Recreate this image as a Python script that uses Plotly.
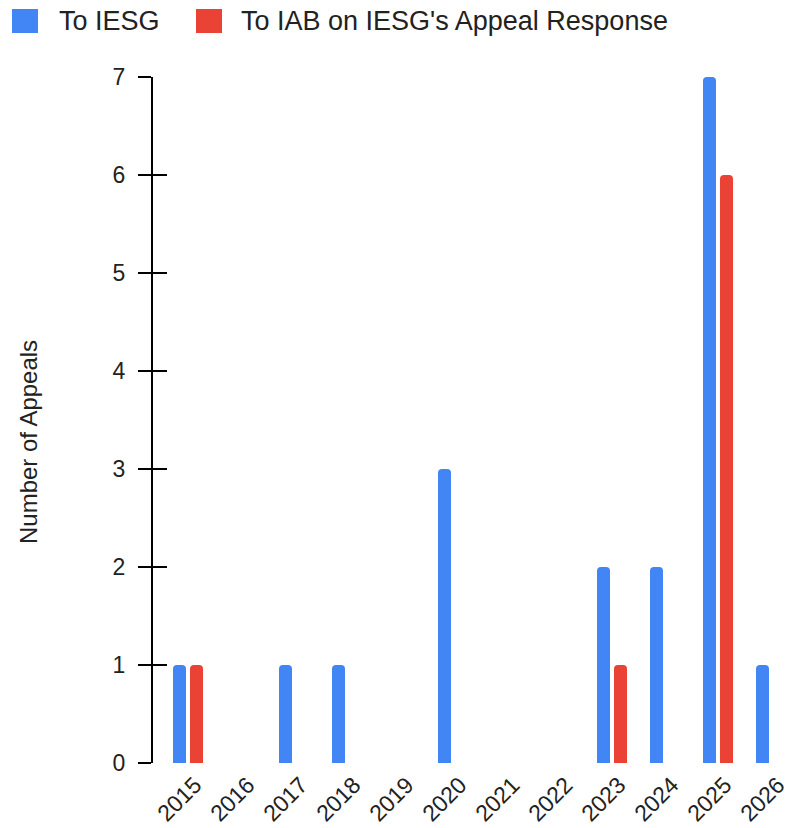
import plotly.graph_objects as go

years = [2015, 2016, 2017, 2018, 2019, 2020, 2021, 2022, 2023, 2024, 2025, 2026]
year_labels = [str(y) for y in years]
to_iesg = [1, 0, 1, 1, 0, 3, 0, 0, 2, 2, 7, 1]
to_iab = [1, 0, 0, 0, 0, 0, 0, 0, 1, 0, 6, 0]
y_ticks = [0, 1, 2, 3, 4, 5, 6, 7]

series_names = ["To IESG", "To IAB on IESG's Appeal Response"]
series_colors = ["#4285F4", "#EA4335"]

FONT = "Liberation Sans, Arial, sans-serif"
TXT = "#222222"

W, H = 786, 828
L, R, T, B = 153, 0, 77, 828 - 763
PW = W - L - R
PH = H - T - B
PX_PER_YEAR = 53.0
x_min = 2015 - 35 / PX_PER_YEAR
x_max = x_min + PW / PX_PER_YEAR

bar_w = 13 / PX_PER_YEAR

fig = go.Figure()
fig.add_trace(go.Bar(
    x=years, y=to_iesg, name=series_names[0],
    marker=dict(color=series_colors[0], line=dict(width=0)),
    width=bar_w, offset=-15 / PX_PER_YEAR, showlegend=False,
))
fig.add_trace(go.Bar(
    x=years, y=to_iab, name=series_names[1],
    marker=dict(color=series_colors[1], line=dict(width=0)),
    width=bar_w, offset=2 / PX_PER_YEAR, showlegend=False,
))

# helpers: page pixel -> paper coordinate
def px_x(px):
    return (px - L) / PW

def px_y(py):
    return (H - B - py) / PH

# custom legend (large rounded squares like the reference)
legend_items = [(12, 38, 57), (196, 222, 239)]
for (x0, x1, tx), name, col in zip(legend_items, series_names, series_colors):
    fig.add_shape(type="rect", xref="paper", yref="paper",
                  x0=px_x(x0), x1=px_x(x1), y0=px_y(33), y1=px_y(9),
                  fillcolor=col, line=dict(width=0), layer="above")
    fig.add_annotation(xref="paper", yref="paper", x=px_x(tx), y=px_y(21),
                       text=name, showarrow=False, xanchor="left", yanchor="middle",
                       font=dict(family=FONT, size=27, color=TXT))

# y axis title
fig.add_annotation(xref="paper", yref="paper", x=px_x(28), y=px_y(442),
                   text="Number of Appeals", textangle=-90, showarrow=False,
                   xanchor="center", yanchor="middle",
                   font=dict(family=FONT, size=24, color=TXT))

fig.update_layout(
    width=W, height=H,
    margin=dict(l=L, r=R, t=T, b=B, pad=0, autoexpand=False),
    paper_bgcolor="white", plot_bgcolor="white",
    barmode="overlay",
    barcornerradius=4,
    showlegend=False,
    font=dict(family=FONT, color=TXT),
    xaxis=dict(
        range=[x_min, x_max], tickmode="array", tickvals=years, ticktext=year_labels,
        tickangle=-45, showgrid=False, zeroline=False, showline=False, ticks="",
        ticklabelstandoff=3, ticklabelshift=7, ticklabeloverflow="allow",
        automargin=False,
        tickfont=dict(family=FONT, size=23, color=TXT),
    ),
    yaxis=dict(
        range=[0, 7], tickmode="array", tickvals=y_ticks,
        showgrid=False, zeroline=False, showline=True, linecolor="black", linewidth=2,
        ticks="outside", ticklen=13, tickwidth=2, tickcolor="black",
        ticklabelstandoff=8, automargin=False,
        tickfont=dict(family=FONT, size=23, color=TXT),
    ),
    yaxis2=dict(
        range=[0, 7], tickmode="array", tickvals=y_ticks, overlaying="y", side="left",
        showgrid=False, zeroline=False, showline=False, showticklabels=False,
        ticks="inside", ticklen=14, tickwidth=2, tickcolor="black", automargin=False,
    ),
)
# invisible trace to activate yaxis2
fig.add_trace(go.Scatter(x=[years[0]], y=[0], yaxis="y2", mode="markers",
                         marker=dict(opacity=0), hoverinfo="skip", showlegend=False))

fig.write_html(
    "out.html",
    config={"displayModeBar": False},
    post_script="document.body.style.margin='0';document.body.style.overflow='hidden';",
)
